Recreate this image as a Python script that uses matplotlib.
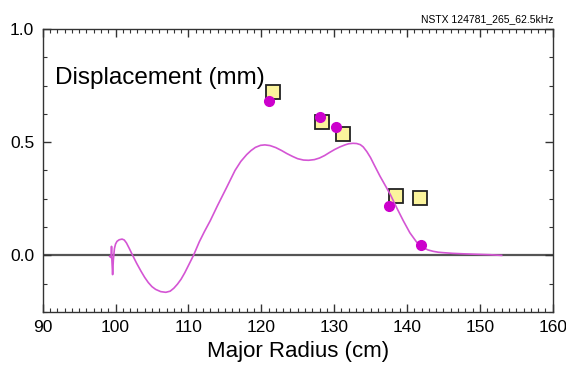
import matplotlib
matplotlib.use("Agg")
import matplotlib.pyplot as plt
from matplotlib.ticker import MultipleLocator

plt.rcParams['font.family'] = ['Liberation Sans', 'DejaVu Sans']

# modelled displacement profile (cm, mm)
radius = [99.2, 99.4, 99.45, 99.5, 99.6, 99.7, 99.85, 100.0, 100.2, 100.5,
          100.9, 101.2, 101.5, 101.9, 102.35, 102.9, 103.5, 104.0, 104.5, 105.0,
          105.5, 106.2, 106.9, 107.5, 108.0, 108.5, 109.0, 109.5, 110.0, 110.7,
          111.5, 112.2, 113.0, 114.0, 115.25, 116.4, 117.2, 118.0, 118.6, 119.2,
          119.9, 120.5, 121.2, 122.0, 122.8, 123.5, 124.3, 125.0, 125.8, 126.5,
          127.3, 128.0, 128.7, 129.4, 130.1, 130.8, 131.5, 132.0, 132.6, 133.1,
          133.6, 134.0, 134.5, 135.0, 135.5, 136.3, 137.0, 137.7, 138.6, 139.5,
          140.4, 141.3, 141.8, 142.3, 142.9, 143.6, 144.3, 145.0, 146.3, 147.7,
          149.5, 151.4, 153.0]
displacement = [-0.005, -0.01, 0.04, -0.02, -0.085, -0.02, 0.03, 0.05, 0.062, 0.069,
                0.072, 0.068, 0.055, 0.03, 0.0, -0.035, -0.07, -0.097, -0.12, -0.138,
                -0.15, -0.16, -0.163, -0.158, -0.145, -0.127, -0.105, -0.077, -0.045, 0.0,
                0.06, 0.105, 0.153, 0.22, 0.30, 0.375, 0.415, 0.445, 0.463, 0.477,
                0.486, 0.488, 0.485, 0.476, 0.463, 0.45, 0.437, 0.427, 0.421, 0.42,
                0.423, 0.43, 0.441, 0.455, 0.468, 0.479, 0.488, 0.493, 0.495, 0.494,
                0.489, 0.479, 0.458, 0.432, 0.40, 0.35, 0.31, 0.27, 0.21, 0.153,
                0.10, 0.06, 0.045, 0.033, 0.024, 0.018, 0.014, 0.012, 0.009, 0.007,
                0.005, 0.003, 0.0]

# measured points
square_r = [121.6, 128.4, 131.2, 138.5, 141.8]
square_d = [0.723, 0.59, 0.536, 0.263, 0.254]
dot_r = [121.1, 128.1, 130.3, 137.5, 141.9]
dot_d = [0.68, 0.61, 0.567, 0.22, 0.045]

fig = plt.figure(figsize=(5.66, 3.71), dpi=100)
ax = fig.add_axes([0.0754, 0.159, 0.901, 0.763])

ax.axhline(0, color='#555555', lw=1.6, zorder=1)
ax.plot(square_r, square_d, 's', ms=10, mfc='#fbf49c', mec='#222222', mew=1.3, zorder=2)
ax.plot(radius, displacement, color='#d455d4', lw=1.2, zorder=3)
ax.plot(dot_r, dot_d, 'o', ms=7, color='#cc00cc', zorder=4)

ax.set_xlim(90, 160)
ax.set_ylim(-0.25, 1.0)
ax.xaxis.set_major_locator(MultipleLocator(10))
ax.xaxis.set_minor_locator(MultipleLocator(1))
ax.yaxis.set_major_locator(MultipleLocator(0.5))
ax.yaxis.set_minor_locator(MultipleLocator(0.125))
ax.tick_params(which='both', direction='in', top=True, right=True,
               labelsize=12.5, color='#333333', pad=6)
ax.tick_params(which='major', length=6, width=1)
ax.tick_params(which='minor', length=3, width=0.8)
ax.yaxis.set_major_formatter(plt.FormatStrFormatter('%.1f'))
for s in ax.spines.values():
    s.set_color('#333333')
    s.set_linewidth(1)

ax.set_xlabel('Major Radius (cm)', fontsize=16, labelpad=4)
ax.text(0.024, 0.805, 'Displacement (mm)', transform=ax.transAxes, fontsize=17.5)
fig.text(0.977, 0.94, 'NSTX 124781_265_62.5kHz', ha='right', fontsize=7.5)

fig.savefig('out.png', dpi=100)
